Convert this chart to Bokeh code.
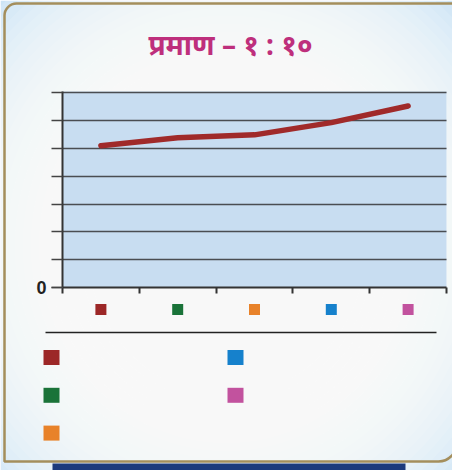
from bokeh.plotting import figure
from bokeh.models import ColumnDataSource, FixedTicker, Range1d
from bokeh.embed import file_html
from bokeh.resources import INLINE
from bokeh.core.properties import value

# ---- data ----
title_text = "प्रमाण – १ : १०"
category_pos = [0.5, 1.5, 2.5, 3.5, 4.5]
series_values = [5.10, 5.39, 5.49, 5.93, 6.53]
key_colors = ["#9C2727", "#1A7339", "#E8822A", "#1681CC", "#C2529E"]
y_ticks = [0, 1, 2, 3, 4, 5, 6, 7]
y_labelled = [0]
x_ticks = [0, 1, 2, 3, 4, 5]

W, H = 452, 470
p = figure(width=W, height=H, output_backend="svg", toolbar_location=None,
           x_range=Range1d(0, 5), y_range=Range1d(0, 7.05),
           min_border_left=62, min_border_right=6, min_border_top=91, min_border_bottom=183)
p.title.visible = False
p.border_fill_color = "#BFDDF3"
p.background_fill_color = None
p.outline_line_color = None

# px per unit, origin of the frame at pixel (62, 287)
ux = 384 / 5.0
uy = 196 / 7.05
def dx(px):
    return (px - 62) / ux
def dy(py):
    return (287 - py) / uy

# soft vignette (white centre fading to light blue corners)
n = 26
ew = [680 - k * 16 for k in range(n)]
eh = [700 - k * 16 for k in range(n)]
p.ellipse(x=[dx(226)] * n, y=[dy(245)] * n, width=ew, height=eh, width_units="screen", height_units="screen",
          fill_color="white", fill_alpha=0.12, line_color=None, level="guide")

# plot area
p.quad(left=[0], right=[5], bottom=[0], top=[7.05], fill_color="#C8DDF1", line_color=None, level="guide")

# axes
xa = p.xaxis[0]
xa.ticker = FixedTicker(ticks=[], minor_ticks=x_ticks)
xa.minor_tick_in = 0
xa.minor_tick_out = 6
xa.minor_tick_line_color = "#333333"
xa.minor_tick_line_width = 2
xa.axis_line_color = "#333333"
xa.axis_line_width = 2
xa.level = "overlay"

ya = p.yaxis[0]
ya.ticker = FixedTicker(ticks=y_labelled, minor_ticks=y_ticks)
ya.major_label_text_font = "Liberation Sans"
ya.major_label_text_font_style = "bold"
ya.major_label_text_font_size = "18px"
ya.major_label_text_color = "#222222"
ya.major_label_standoff = 5
ya.major_tick_in = 0
ya.major_tick_out = 11
ya.minor_tick_in = 0
ya.minor_tick_out = 11
ya.minor_tick_line_color = "#444444"
ya.minor_tick_line_width = 1.5
ya.axis_line_color = "#333333"
ya.axis_line_width = 2
ya.major_tick_line_color = "#444444"
ya.major_tick_line_width = 1.5
ya.level = "overlay"

p.xgrid.visible = False
p.ygrid.ticker = FixedTicker(ticks=y_ticks)
p.ygrid.grid_line_color = "#4A4D52"
p.ygrid.grid_line_width = 1.5
p.ygrid.level = "annotation"

# line
src = ColumnDataSource(dict(x=category_pos, y=series_values))
p.line("x", "y", source=src, line_color="#A02A2A", line_width=5.5, line_cap="round", line_join="round",
       level="overlay")

# frame border and bottom bar
p.quad(left=[dx(4)], right=[dx(456)], bottom=[dy(461)], top=[dy(3)],
       fill_color=None, line_color="#A48E5C", line_width=2.5,
       border_radius=dict(top_left=12, top_right=0, bottom_right=18, bottom_left=0), level="overlay")
p.quad(left=[dx(52)], right=[dx(405)], bottom=[dy(490)], top=[dy(463)],
       fill_color="#1C3A7C", line_color=None, level="overlay")

# small key squares under axis
ksrc = ColumnDataSource(dict(x=category_pos, y=[dy(309)] * 5, c=key_colors))
p.rect("x", "y", source=ksrc, width=11, height=11, width_units="screen", height_units="screen",
       fill_color="c", line_color=None, level="overlay")

# separator line
p.segment(x0=[dx(45)], y0=[dy(332)], x1=[dx(436)], y1=[dy(332)], line_color="#222222", line_width=1.5,
          level="overlay")

# legend squares
l, r, b, t = [], [], [], []
for i in range(len(key_colors)):
    col, row = i // 3, i % 3
    cx, cy = 51 + col * 184, 357 + row * 37.8
    l.append(dx(cx - 8)); r.append(dx(cx + 8)); t.append(dy(cy - 7.5)); b.append(dy(cy + 7.5))
lsrc = ColumnDataSource(dict(l=l, r=r, b=b, t=t, c=key_colors))
p.quad(left="l", right="r", bottom="b", top="t", source=lsrc, fill_color="c", line_color=None, level="overlay")

# title
p.text(x=[dx(230)], y=[dy(43)], text=[title_text], text_align="center", text_baseline="middle",
       text_font=value("Noto Sans"), text_font_size="28px", text_font_style="bold",
       text_color="#BE2F7C", level="overlay")

open("out.html", "w").write(file_html(p, INLINE))
